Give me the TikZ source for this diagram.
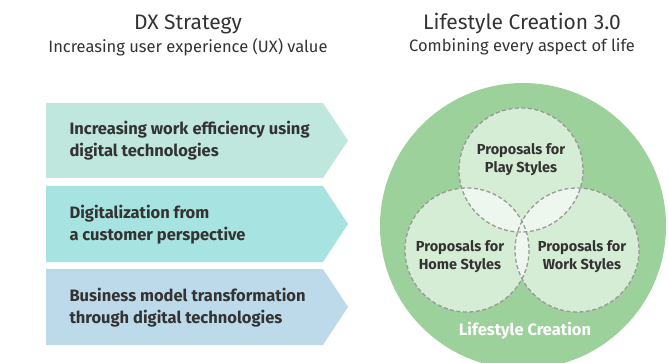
\documentclass[tikz,border=0pt]{standalone}
\usepackage{fontspec}
\setmainfont{Fira Sans}
\definecolor{ink}{HTML}{333333}
\definecolor{mint}{HTML}{BFE7DD}
\definecolor{aqua}{HTML}{A7E3E0}
\definecolor{sky}{HTML}{BDDAEA}
\definecolor{leaf}{HTML}{9DD19B}
\definecolor{pale}{HTML}{D6EDD5}
\definecolor{paler}{HTML}{EEF7EE}
\definecolor{dash}{HTML}{9A9A9A}
\begin{document}
\begin{tikzpicture}[x=1pt,y=-1pt,
  title/.style={font=\fontsize{21}{24}\selectfont, text=ink},
  subtitle/.style={font=\fontsize{16.5}{19}\selectfont, text=ink},
  arrowtext/.style={anchor=west, align=left, text=ink,
    font=\fontsize{16.5}{22}\selectfont\bfseries},
  venntext/.style={align=center, text=ink,
    font=\fontsize{14.5}{18}\selectfont\bfseries},
  ring/.style={draw=dash, line width=1.3pt, dash pattern=on 4pt off 2.5pt}]
\useasboundingbox (0,0) rectangle (668,363);

% headings
\node[title] (dx) at (188,24) {DX Strategy};
\node[subtitle] (dxsub) at (188,47) {Increasing user experience (UX) value};
\node[title] (ls) at (522,24) {Lifestyle Creation 3.0};
\node[subtitle] (lssub) at (522,47) {Combining every aspect of life};

% strategy arrows
\fill[mint] (46,103) -- (323,103) -- (348,140.5) -- (323,178) -- (46,178) -- cycle;
\fill[aqua] (46,186) -- (323,186) -- (348,224) -- (323,262) -- (46,262) -- cycle;
\fill[sky] (46,269) -- (323,269) -- (348,307) -- (323,345) -- (46,345) -- cycle;
\node[arrowtext] (a1) at (66,141) {Increasing work efficiency using\\digital technologies};
\node[arrowtext] (a2) at (66,224.5) {Digitalization from\\a customer perspective};
\node[arrowtext] (a3) at (66,307.5) {Business model transformation\\through digital technologies};

% lifestyle circle
\coordinate (big) at (523,226);
\coordinate (play) at (521,170);
\coordinate (home) at (467,250);
\coordinate (work) at (577,250);
\fill[leaf] (big) circle[radius=143];
\fill[pale] (play) circle[radius=62] (home) circle[radius=62] (work) circle[radius=62];
\begin{scope}
  \clip (play) circle[radius=62];
  \fill[paler] (home) circle[radius=62] (work) circle[radius=62];
\end{scope}
\begin{scope}
  \clip (home) circle[radius=62];
  \fill[paler] (work) circle[radius=62];
\end{scope}
\draw[ring] (play) circle[radius=62];
\draw[ring] (home) circle[radius=62];
\draw[ring] (work) circle[radius=62];
\node[venntext] (p) at (521,160) {Proposals for\\Play Styles};
\node[venntext] (h) at (460,257) {Proposals for\\Home Styles};
\node[venntext] (w) at (582,257) {Proposals for\\Work Styles};
\node[text=white, font=\fontsize{16.5}{18}\selectfont\bfseries] (lc) at (525,331) {Lifestyle Creation};
\end{tikzpicture}
\end{document}
